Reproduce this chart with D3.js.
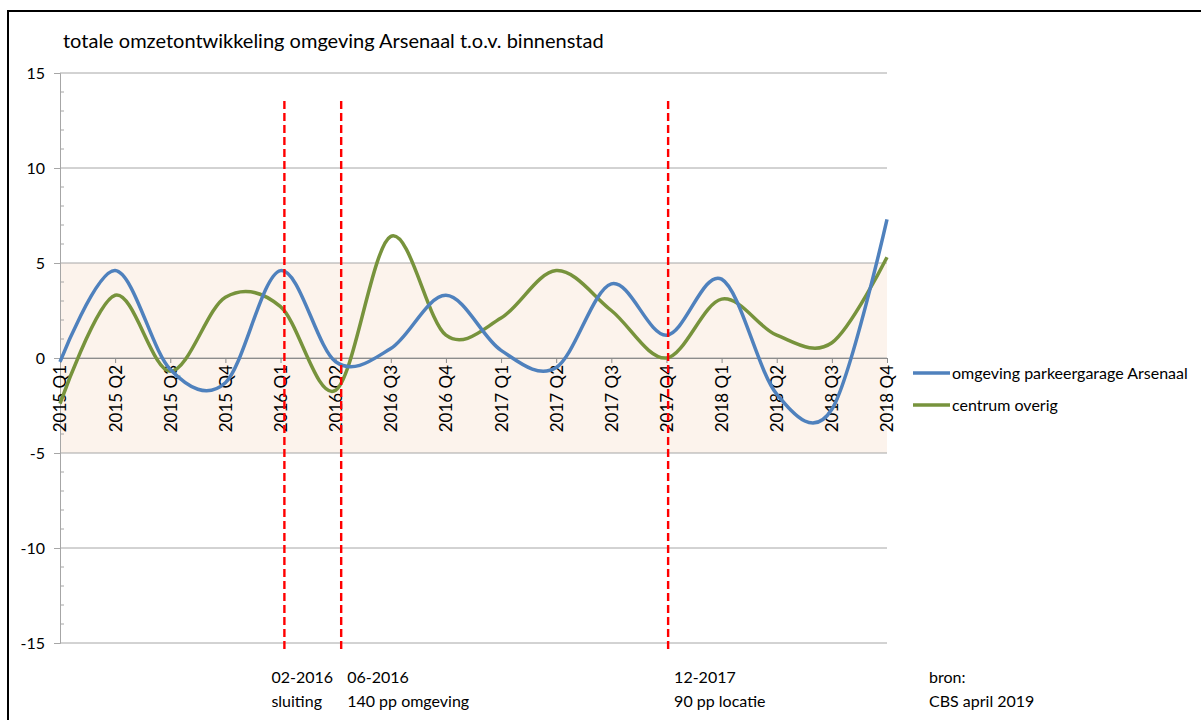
<!DOCTYPE html>
<html>
<head>
<meta charset="utf-8">
<script src="https://cdn.jsdelivr.net/npm/d3@7"></script>
<style>
  body { margin: 0; background: #fff; }
  svg { display: block; font-family: Lato, "Open Sans", sans-serif; }
</style>
</head>
<body>
<div id="chart"></div>
<script>
// quarters on the x-axis
var quarters = ["2015 Q1","2015 Q2","2015 Q3","2015 Q4","2016 Q1","2016 Q2","2016 Q3","2016 Q4",
                "2017 Q1","2017 Q2","2017 Q3","2017 Q4","2018 Q1","2018 Q2","2018 Q3","2018 Q4"]

// series values
var arsenaal = [-0.2, 4.6, -0.6, -1.3, 4.6, -0.2, 0.5, 3.3, 0.4, -0.5, 3.9, 1.2, 4.15, -1.9, -2.7, 7.3]
var centrum  = [-2.4, 3.3, -0.7, 3.2, 2.7, -1.7, 6.4, 1.2, 2.1, 4.6, 2.5, 0.0, 3.1, 1.2, 0.8, 5.3]

var seriesNames = ["omgeving parkeergarage Arsenaal", "centrum overig"]
var yTicks = [-15, -10, -5, 0, 5, 10, 15]

// events (position in quarter index) with their two label lines
var eventPos = [4.07, 5.1, 11.03]
var eventDate = ["02-2016", "06-2016", "12-2017"]
var eventText = ["sluiting", "140 pp omgeving", "90 pp locatie"]

var width = 1201, height = 720
var plot = {left: 60, right: 887, top: 73, bottom: 643}

var svg = d3.select("#chart")
    .append("svg")
    .attr("width", width)
    .attr("height", height)

// outer frame
svg.append("rect")
    .attr("x", 8)
    .attr("y", 11)
    .attr("width", 1200)
    .attr("height", 720)
    .style("fill", "none")
    .style("stroke", "#000")
    .style("stroke-width", 2)

// title
svg.append("text")
    .attr("x", 63)
    .attr("y", 48)
    .text("totale omzetontwikkeling omgeving Arsenaal t.o.v. binnenstad")
    .style("font-size", "20px")
    .style("fill", "#000")

// scales
var x = d3.scaleLinear()
    .domain([0, quarters.length - 1])
    .range([plot.left, plot.right])

var y = d3.scaleLinear()
    .domain([-15, 15])
    .range([plot.bottom, plot.top])

// shaded band between -5 and 5
svg.append("rect")
    .attr("x", x(0))
    .attr("y", y(5))
    .attr("width", x(quarters.length - 1) - x(0))
    .attr("height", y(-5) - y(5))
    .style("fill", "#FCF3EC")

// gridlines
svg.append("g")
    .selectAll("line")
    .data(yTicks)
    .enter().append("line")
        .attr("x1", x(0))
        .attr("x2", x(quarters.length - 1))
        .attr("y1", function(d) { return y(d) })
        .attr("y2", function(d) { return y(d) })
        .style("stroke", "#A6A6A6")
        .style("stroke-width", 1)

// y-axis: major ticks outside, minor ticks inside
var yAxis = svg.append("g")
    .attr("transform", `translate(${plot.left},0)`)
    .call(d3.axisLeft(y)
        .tickValues(yTicks)
        .tickFormat(function(d) { return String(d) })
        .tickSize(6)
        .tickPadding(9))
yAxis.select(".domain").style("stroke", "#A6A6A6")
yAxis.selectAll(".tick line").style("stroke", "#A6A6A6")
yAxis.selectAll("text")
    .style("font-size", "16px")
    .style("font-family", "Lato, sans-serif")
    .style("fill", "#000")

svg.append("g")
    .selectAll("line")
    .data(d3.range(-15, 16).filter(function(d) { return d % 5 != 0 }))
    .enter().append("line")
        .attr("x1", plot.left)
        .attr("x2", plot.left + 4)
        .attr("y1", function(d) { return y(d) })
        .attr("y2", function(d) { return y(d) })
        .style("stroke", "#A6A6A6")

// x-axis at zero
var xAxis = svg.append("g")
    .attr("transform", `translate(0,${y(0)})`)
    .call(d3.axisBottom(x)
        .tickValues(d3.range(quarters.length))
        .tickFormat(function(i) { return quarters[i] })
        .tickSize(5)
        .tickSizeOuter(0))
xAxis.select(".domain").style("stroke", "#8C8C8C")
xAxis.selectAll(".tick line").style("stroke", "#8C8C8C")
xAxis.selectAll("text")
    .attr("transform", "rotate(-90)")
    .attr("x", -7)
    .attr("y", 0)
    .attr("dy", "0.35em")
    .style("text-anchor", "end")
    .style("font-size", "17px")
    .style("font-family", "Lato, sans-serif")
    .style("fill", "#000")

// smoothed lines
var line = function(values) {
    return d3.line()
        .x(function(d, i) { return x(i) })
        .y(function(d) { return y(d) })
        .curve(d3.curveCardinal.tension(0))(values)
}

var colors = ["#4F81BD", "#77933C"]

// green is drawn first, blue on top
svg.append("path")
    .attr("d", line(centrum))
    .style("fill", "none")
    .style("stroke", colors[1])
    .style("stroke-width", 3.5)
svg.append("path")
    .attr("d", line(arsenaal))
    .style("fill", "none")
    .style("stroke", colors[0])
    .style("stroke-width", 3.5)

// red dashed event lines
svg.append("g")
    .selectAll("line")
    .data(eventPos)
    .enter().append("line")
        .attr("x1", function(d) { return x(d) })
        .attr("x2", function(d) { return x(d) })
        .attr("y1", 101)
        .attr("y2", 652)
        .style("stroke", "#FF0000")
        .style("stroke-width", 2.4)
        .style("stroke-dasharray", "8,4")

// event labels
eventPos.forEach(function(p, i) {
    var lx = i == 0 ? x(p) - 13 : x(p) + 6
    svg.append("text")
        .attr("x", lx)
        .attr("y", 683)
        .text(eventDate[i])
        .style("font-size", "16px")
    svg.append("text")
        .attr("x", lx)
        .attr("y", 707)
        .text(eventText[i])
        .style("font-size", "16px")
})

// source note
svg.append("text")
    .attr("x", 929)
    .attr("y", 683)
    .text("bron:")
    .style("font-size", "16px")
svg.append("text")
    .attr("x", 929)
    .attr("y", 707)
    .text("CBS april 2019")
    .style("font-size", "16px")

// legend
seriesNames.forEach(function(name, i) {
    var ly = 373 + i * 32
    svg.append("line")
        .attr("x1", 913)
        .attr("x2", 950)
        .attr("y1", ly)
        .attr("y2", ly)
        .style("stroke", colors[i])
        .style("stroke-width", 3.5)
    svg.append("text")
        .attr("x", 952)
        .attr("y", ly)
        .attr("dy", "0.35em")
        .text(name)
        .style("font-size", "16px")
})
</script>
</body>
</html>
